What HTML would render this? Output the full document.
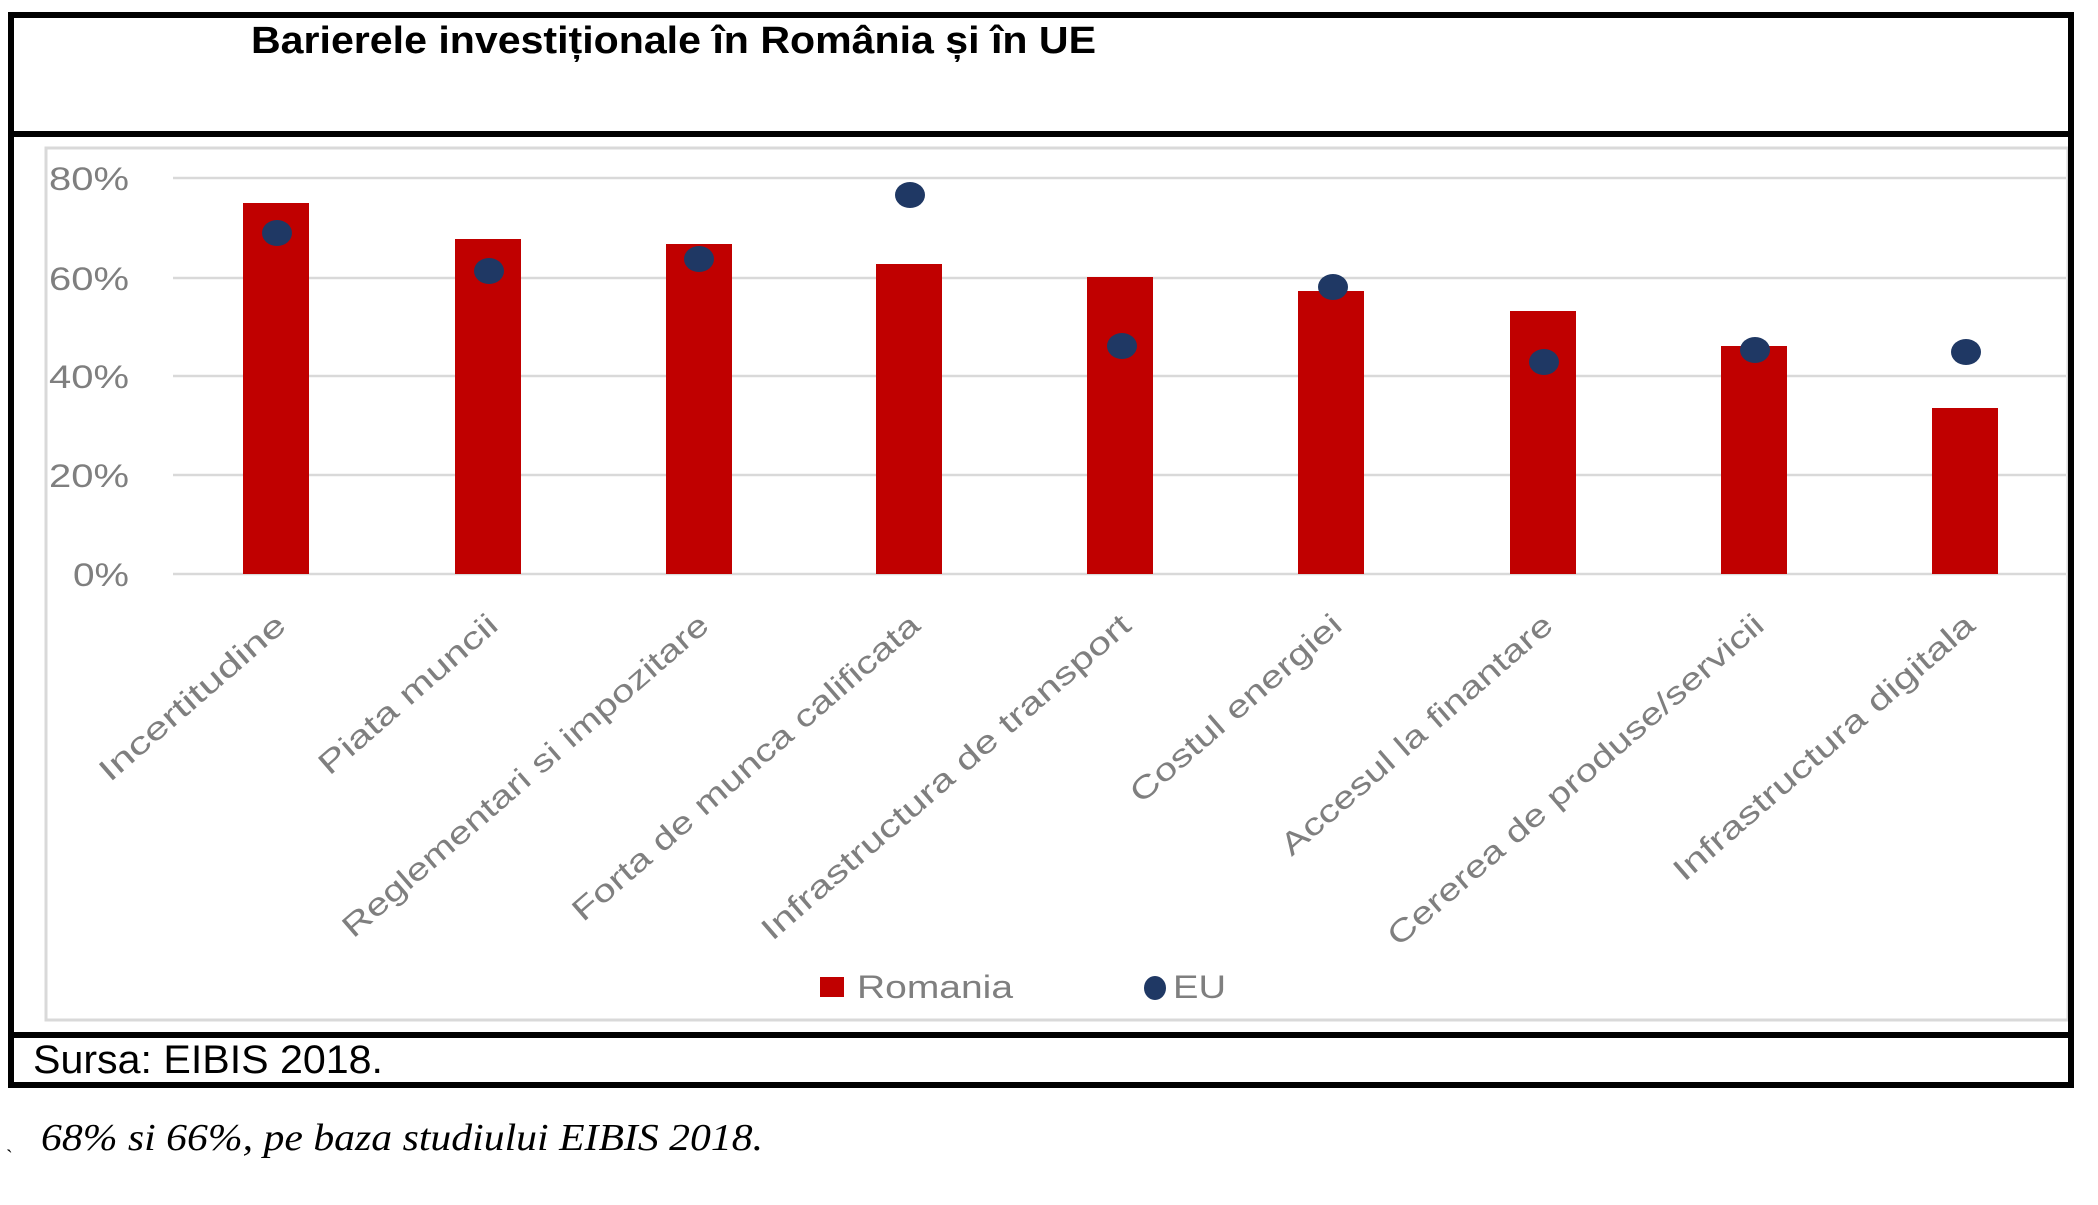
<!DOCTYPE html>
<html><head><meta charset="utf-8"><style>
html,body{margin:0;padding:0;background:#fff;}
svg{display:block;}
</style></head><body>
<svg width="2098" height="1205" viewBox="0 0 2098 1205" xmlns="http://www.w3.org/2000/svg">
<rect x="0" y="0" width="2098" height="1205" fill="#fff"/>
<!-- inner chart frame -->
<rect x="46" y="148" width="2022" height="872" fill="#fff" stroke="#d9d9d9" stroke-width="3"/>
<!-- gridlines -->
<g stroke="#d9d9d9" stroke-width="2.5">
<line x1="173" y1="178" x2="2066" y2="178"/>
<line x1="173" y1="278" x2="2066" y2="278"/>
<line x1="173" y1="376" x2="2066" y2="376"/>
<line x1="173" y1="475" x2="2066" y2="475"/>
<line x1="173" y1="574" x2="2066" y2="574"/>
</g>
<g font-family="Liberation Sans, sans-serif" font-size="32" fill="#7f7f7f" text-anchor="end">
<text x="129" y="190" textLength="80" lengthAdjust="spacingAndGlyphs">80%</text>
<text x="129" y="290" textLength="80" lengthAdjust="spacingAndGlyphs">60%</text>
<text x="129" y="388" textLength="80" lengthAdjust="spacingAndGlyphs">40%</text>
<text x="129" y="487" textLength="80" lengthAdjust="spacingAndGlyphs">20%</text>
<text x="129" y="586" textLength="56" lengthAdjust="spacingAndGlyphs">0%</text>
</g>
<!-- bars -->
<g fill="#c00000">
<rect x="243" y="203" width="66" height="371"/>
<rect x="455" y="239" width="66" height="335"/>
<rect x="666" y="244" width="66" height="330"/>
<rect x="876" y="264" width="66" height="310"/>
<rect x="1087" y="277" width="66" height="297"/>
<rect x="1298" y="291" width="66" height="283"/>
<rect x="1510" y="311" width="66" height="263"/>
<rect x="1721" y="346" width="66" height="228"/>
<rect x="1932" y="408" width="66" height="166"/>
</g>
<!-- dots -->
<g fill="#1f3864">
<ellipse cx="277" cy="233" rx="15" ry="13"/>
<ellipse cx="489" cy="271" rx="15" ry="13"/>
<ellipse cx="699" cy="259" rx="15" ry="13"/>
<ellipse cx="910" cy="195" rx="15" ry="13"/>
<ellipse cx="1122" cy="346" rx="15" ry="13"/>
<ellipse cx="1333" cy="287" rx="15" ry="13"/>
<ellipse cx="1544" cy="362" rx="15" ry="13"/>
<ellipse cx="1755" cy="350" rx="15" ry="13"/>
<ellipse cx="1966" cy="352" rx="15" ry="13"/>
</g>
<!-- category labels -->
<g font-family="Liberation Sans, sans-serif" font-size="31" fill="#7f7f7f" text-anchor="end">
<text transform="translate(288,628) rotate(-41)" textLength="236" lengthAdjust="spacingAndGlyphs">Incertitudine</text>
<text transform="translate(500,628) rotate(-41)" textLength="226" lengthAdjust="spacingAndGlyphs">Piata muncii</text>
<text transform="translate(711,628) rotate(-41)" textLength="474" lengthAdjust="spacingAndGlyphs">Reglementari si impozitare</text>
<text transform="translate(922,628) rotate(-41)" textLength="449" lengthAdjust="spacingAndGlyphs">Forta de munca calificata</text>
<text transform="translate(1133,628) rotate(-41)" textLength="478" lengthAdjust="spacingAndGlyphs">Infrastructura de transport</text>
<text transform="translate(1344,628) rotate(-41)" textLength="269" lengthAdjust="spacingAndGlyphs">Costul energiei</text>
<text transform="translate(1555,628) rotate(-41)" textLength="349" lengthAdjust="spacingAndGlyphs">Accesul la finantare</text>
<text transform="translate(1766,628) rotate(-41)" textLength="487" lengthAdjust="spacingAndGlyphs">Cererea de produse/servicii</text>
<text transform="translate(1977,628) rotate(-41)" textLength="388" lengthAdjust="spacingAndGlyphs">Infrastructura digitala</text>
</g>
<!-- legend -->
<rect x="820" y="977" width="24" height="20" fill="#c00000"/>
<text x="857" y="998" font-family="Liberation Sans, sans-serif" font-size="32" fill="#7f7f7f" textLength="156" lengthAdjust="spacingAndGlyphs">Romania</text>
<ellipse cx="1155" cy="988" rx="11" ry="12" fill="#1f3864"/>
<text x="1173" y="998" font-family="Liberation Sans, sans-serif" font-size="32" fill="#7f7f7f" textLength="53" lengthAdjust="spacingAndGlyphs">EU</text>
<!-- frame lines -->
<g stroke="#000" stroke-width="6" fill="none">
<line x1="8" y1="15" x2="2074" y2="15"/>
<line x1="11" y1="12" x2="11" y2="1088"/>
<line x1="2071" y1="12" x2="2071" y2="1088"/>
<line x1="8" y1="134" x2="2074" y2="134"/>
<line x1="8" y1="1035" x2="2074" y2="1035"/>
<line x1="8" y1="1085" x2="2074" y2="1085"/>
</g>
<text x="251" y="53" font-family="Liberation Sans, sans-serif" font-weight="bold" font-size="38" fill="#000" textLength="845" lengthAdjust="spacingAndGlyphs">Barierele investiționale în România și în UE</text>
<text x="33" y="1073" font-family="Liberation Sans, sans-serif" font-size="40" fill="#000" textLength="350" lengthAdjust="spacingAndGlyphs">Sursa: EIBIS 2018.</text>
<text x="6" y="1148" font-family="Liberation Serif, serif" font-size="20" fill="#000">ˏ</text>
<text x="41" y="1150" font-family="Liberation Serif, serif" font-style="italic" font-size="38" fill="#000" textLength="722" lengthAdjust="spacingAndGlyphs">68% si 66%,  pe baza studiului EIBIS 2018.</text>
</svg>
</body></html>
